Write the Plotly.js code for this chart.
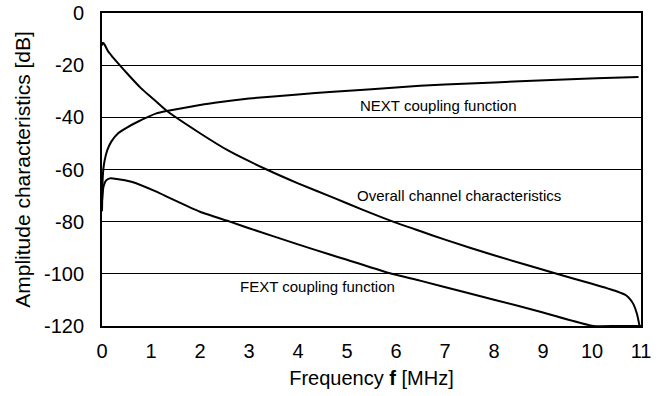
<!DOCTYPE html>
<html>
<head>
<meta charset="utf-8">
<script src="https://cdn.plot.ly/plotly-3.0.1.min.js"></script>
<style>html,body{margin:0;padding:0;background:#fff;}#chart{width:660px;height:396px;}</style>
</head>
<body>
<div id="chart"></div>
<script>
// Frequency [MHz] and amplitude [dB]
const nextFreq = [0.0, 0.015, 0.03, 0.055, 0.11, 0.19, 0.33, 0.5, 0.73, 1.11, 1.32, 2.0, 2.3, 3.0, 4.0, 4.72, 5.5, 6.49, 7.5, 8.53, 9.3, 10.09, 10.95];
const nextDb   = [-76, -63, -59.5, -56.4, -52.5, -49.3, -46.1, -44.0, -41.7, -38.5, -37.6, -35.3, -34.4, -32.8, -31.2, -30.2, -29.2, -27.9, -27.0, -26.2, -25.6, -25.0, -24.5];

const overallFreq = [0.0, 0.02, 0.05, 0.12, 0.2, 0.33, 0.5, 0.8, 1.0, 1.32, 2.0, 2.6, 3.36, 4.0, 4.72, 5.3, 5.94, 6.49, 7.0, 8.0, 9.28, 10.0, 10.5, 10.7, 10.78, 10.85, 10.92, 10.97];
const overallDb   = [-12.5, -11.4, -12.0, -14.6, -16.5, -19.3, -22.9, -28.9, -32.2, -37.5, -46.1, -53.0, -60.0, -65.3, -70.8, -75.3, -80.0, -83.6, -86.9, -92.9, -100.0, -103.8, -106.7, -108.3, -109.8, -111.8, -115.5, -120];

const fextFreq = [0.0, 0.03, 0.08, 0.16, 0.3, 0.6, 1.11, 1.39, 2.0, 2.61, 3.0, 4.0, 4.65, 5.0, 5.91, 6.49, 7.37, 8.0, 9.0, 10.03, 10.5, 11.0];
const fextDb   = [-72, -66.6, -64.3, -63.4, -63.6, -64.7, -68.5, -71.0, -76.2, -80.0, -82.5, -88.7, -92.6, -94.6, -100.0, -102.6, -106.9, -109.9, -114.8, -120, -120, -120];

const xTicks = [0,1,2,3,4,5,6,7,8,9,10,11];
const yTicks = [0,-20,-40,-60,-80,-100,-120];

const lineStyle = {color: '#000', width: 2, shape: 'spline', smoothing: 0.5};
const traces = [
  {x: nextFreq, y: nextDb, mode: 'lines', line: lineStyle, name: 'NEXT coupling function', hoverinfo: 'skip'},
  {x: overallFreq, y: overallDb, mode: 'lines', line: lineStyle, name: 'Overall channel characteristics', hoverinfo: 'skip'},
  {x: fextFreq, y: fextDb, mode: 'lines', line: lineStyle, name: 'FEXT coupling function', hoverinfo: 'skip'}
];

const font = {family: 'Liberation Sans, Arial, sans-serif', color: '#000'};
const layout = {
  width: 660, height: 396,
  margin: {l: 102, r: 19, t: 13, b: 70},
  paper_bgcolor: '#fff', plot_bgcolor: '#fff',
  showlegend: false,
  font: Object.assign({size: 20}, font),
  xaxis: {
    range: [0, 11], tickvals: xTicks, ticktext: xTicks.map(String),
    showgrid: false, zeroline: false,
    showline: true, linecolor: '#000', linewidth: 2, mirror: true,
    ticks: '', ticklabelstandoff: 6,
    tickfont: Object.assign({size: 20}, font),
    title: {text: 'Frequency <b>f</b> [MHz]', font: Object.assign({size: 20}, font), standoff: 10}
  },
  yaxis: {
    range: [-120, 0], tickvals: yTicks, ticktext: yTicks.map(String),
    showgrid: true, gridcolor: '#000', gridwidth: 1, zeroline: false,
    showline: true, linecolor: '#000', linewidth: 2, mirror: true,
    ticks: '', ticklabelstandoff: 12,
    tickfont: Object.assign({size: 20}, font),
    title: {text: 'Amplitude characteristics [dB]', font: Object.assign({size: 21}, font), standoff: 8}
  },
  annotations: [
    {x: 5.22, y: -35.3, xref: 'x', yref: 'y', text: 'NEXT coupling function', showarrow: false, xanchor: 'left', yanchor: 'middle', font: Object.assign({size: 15}, font)},
    {x: 5.16, y: -69.8, xref: 'x', yref: 'y', text: 'Overall channel characteristics', showarrow: false, xanchor: 'left', yanchor: 'middle', font: Object.assign({size: 15}, font)},
    {x: 2.78, y: -105, xref: 'x', yref: 'y', text: 'FEXT coupling function', showarrow: false, xanchor: 'left', yanchor: 'middle', font: Object.assign({size: 15}, font)}
  ]
};

Plotly.newPlot('chart', traces, layout, {staticPlot: true, displayModeBar: false});
</script>
</body>
</html>
